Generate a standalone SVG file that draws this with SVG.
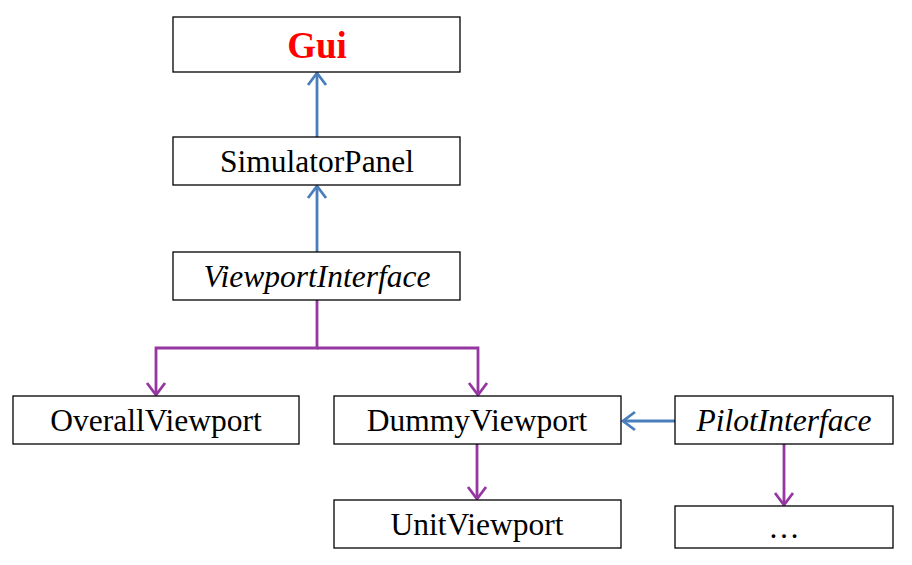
<svg xmlns="http://www.w3.org/2000/svg" width="912" height="565" viewBox="0 0 912 565">
<style>
.box{fill:#fff;stroke:#000;stroke-width:1.3}
.t{font-family:"Liberation Serif","Times New Roman",serif;font-size:31.5px;text-anchor:middle;fill:#000}
.i{font-style:italic}
.blue{fill:none;stroke:#4A7EBB;stroke-width:2.8}
.purple{fill:none;stroke:#9636A0;stroke-width:2.8}
</style>
<defs>
<marker id="ab" markerUnits="userSpaceOnUse" markerWidth="30" markerHeight="30" refX="14" refY="10" orient="auto" viewBox="0 0 30 20">
<path d="M2,1 L14,10 L2,19" fill="none" stroke="#4A7EBB" stroke-width="2.8"/>
</marker>
<marker id="ap" markerUnits="userSpaceOnUse" markerWidth="30" markerHeight="30" refX="14" refY="10" orient="auto" viewBox="0 0 30 20">
<path d="M2,1 L14,10 L2,19" fill="none" stroke="#9636A0" stroke-width="2.8"/>
</marker>
</defs>
<g id="connectors">
<line class="blue" x1="317" y1="137" x2="317" y2="73" marker-end="url(#ab)"/>
<line class="blue" x1="317" y1="252" x2="317" y2="186" marker-end="url(#ab)"/>
<polyline class="purple" points="317,300 317,348 156,348 156,395" marker-end="url(#ap)"/>
<polyline class="purple" points="317,348 478,348 478,395" marker-end="url(#ap)"/>
<line class="purple" x1="477" y1="444" x2="477" y2="499" marker-end="url(#ap)"/>
<line class="blue" x1="675" y1="421" x2="623" y2="421" marker-end="url(#ab)"/>
<line class="purple" x1="784" y1="444" x2="784" y2="505" marker-end="url(#ap)"/>
</g>
<g id="gui"><rect class="box" x="173" y="17" width="287" height="55"/><text class="t" x="317" y="58" style="font-weight:bold;fill:#FF0000;font-size:37px">Gui</text></g>
<g id="simulatorpanel"><rect class="box" x="173" y="137" width="287" height="48"/><text class="t" x="317" y="172">SimulatorPanel</text></g>
<g id="viewportinterface"><rect class="box" x="173" y="252" width="287" height="48"/><text class="t i" x="317" y="287">ViewportInterface</text></g>
<g id="overallviewport"><rect class="box" x="13" y="396" width="286" height="48"/><text class="t" x="156" y="431">OverallViewport</text></g>
<g id="dummyviewport"><rect class="box" x="334" y="396" width="287" height="48"/><text class="t" x="477" y="431">DummyViewport</text></g>
<g id="pilotinterface"><rect class="box" x="675" y="396" width="218" height="48"/><text class="t i" x="784" y="431">PilotInterface</text></g>
<g id="unitviewport"><rect class="box" x="334" y="500" width="287" height="48"/><text class="t" x="477" y="535">UnitViewport</text></g>
<g id="ellipsis"><rect class="box" x="675" y="506" width="218" height="42"/><text class="t" x="784" y="538">…</text></g>
</svg>
